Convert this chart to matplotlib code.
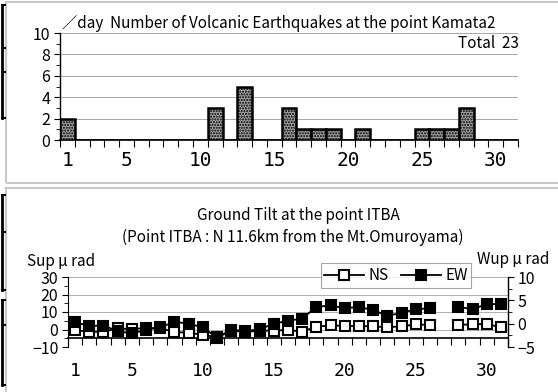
#!/usr/bin/env python3

import matplotlib
matplotlib.use('Agg')
import matplotlib.pyplot as plt
from matplotlib.lines import Line2D
from matplotlib.patches import Rectangle
from matplotlib.ticker import MultipleLocator, FixedLocator
import numpy as np

plt.rcParams['font.family'] = ['Noto Sans CJK JP', 'DejaVu Sans']

days = np.arange(1, 32)
tick_days = [1, 5, 10, 15, 20, 25, 30]

# daily counts of volcanic earthquakes (Kamata2)
quake_counts = [2, 0, 0, 0, 0, 0, 0, 0, 0, 0,
                3, 0, 5, 0, 0, 3, 1, 1, 1, 0,
                1, 0, 0, 0, 1, 1, 1, 3, 0, 0, 0]

# ground tilt at ITBA, micro radian (day 27 missing)
tilt_ns = [-0.3, -1.3, -1.3, 0.7, 0.1, 1.0, 0.6, -1.3, -2.0, -2.9,
           -4.5, -0.7, -1.3, -0.7, -0.6, -0.3, -1.2, 1.6, 2.4, 2.0,
           2.0, 1.8, 1.3, 1.8, 2.9, 2.6, np.nan, 2.6, 3.0, 3.1, 1.3]
tilt_ew = [0.3, -0.5, -0.4, -1.6, -2.1, -1.3, -0.8, 0.4, 0.0, -0.8,
           -3.0, -1.3, -1.6, -1.2, 0.0, 0.6, 1.1, 3.6, 3.9, 3.3,
           3.6, 2.9, 1.7, 2.3, 3.1, 3.3, np.nan, 3.6, 3.1, 4.2, 4.2]

W, H = 558, 392
TXT = 11


def fx(px):
    return px / W


def fy(py):
    return 1 - py / H


def style_day_axis(axis, label_size):
    axis.set_xlim(0.5, 31.5)
    axis.xaxis.set_major_locator(FixedLocator(tick_days))
    axis.xaxis.set_minor_locator(FixedLocator(np.arange(0.5, 32, 1)))
    axis.tick_params(axis='x', which='major', length=0, pad=8)
    axis.tick_params(axis='x', which='minor', length=5, width=0.8, direction='out')
    for lab in axis.get_xticklabels():
        lab.set_fontfamily('DejaVu Sans Mono')
        lab.set_fontsize(label_size)
#-- style_day_axis


def style_value_axis(axis, major, minor):
    axis.yaxis.set_major_locator(MultipleLocator(major))
    axis.yaxis.set_minor_locator(MultipleLocator(minor))
    axis.tick_params(axis='y', which='both', direction='out', labelsize=11.5, pad=3)
    axis.tick_params(axis='y', which='major', length=4)
    axis.tick_params(axis='y', which='minor', length=3)
#-- style_value_axis


def main():
    fig = plt.figure(figsize=(W / 100, H / 100), dpi=100)

    # panel frames
    for y0, y1 in [(2, 183), (188, 396)]:
        fig.add_artist(Rectangle((fx(6), fy(y1)), fx(560) - fx(6), fy(y0) - fy(y1),
                                 transform=fig.transFigure, fill=False,
                                 edgecolor='#c8c8c8', linewidth=1.5))

    # bracket marks on the left margin
    for seg, stubs in [((5, 118), (5, 48, 72, 118)),
                       ((195, 290), (195, 232, 290)),
                       ((300, 385), (300, 325, 385))]:
        fig.add_artist(Line2D([fx(2), fx(2)], [fy(seg[0]), fy(seg[1])],
                              transform=fig.transFigure, color='black', lw=2))
        for s in stubs:
            fig.add_artist(Line2D([fx(2), fx(5)], [fy(s), fy(s)],
                                  transform=fig.transFigure, color='black', lw=1.5))

    # --- earthquake counts
    ax1 = fig.add_axes([fx(60), fy(140), fx(518) - fx(60), fy(33) - fy(140)])
    ax1.bar(days, quake_counts, width=1.0, color='#a0a0a0', edgecolor='black',
            linewidth=1.8, hatch='......', zorder=3)
    ax1.set_ylim(0, 10)
    style_value_axis(ax1, 2, 1)
    ax1.grid(axis='y', which='major', color='#a8a8a8', linewidth=0.7)
    for side in ['top', 'right']:
        ax1.spines[side].set_visible(False)
    ax1.spines['left'].set_linewidth(1.0)
    ax1.spines['bottom'].set_linewidth(1.2)
    style_day_axis(ax1, 14)

    fig.text(fx(62), fy(24), '／day  Number of Volcanic Earthquakes at the point Kamata2',
             fontsize=TXT, va='center', ha='left')
    fig.text(fx(519), fy(43), f'Total  {sum(quake_counts)}',
             fontsize=TXT, va='center', ha='right')

    # --- ground tilt
    ax2 = fig.add_axes([fx(68), fy(347), fx(508) - fx(68), fy(277) - fy(347)])
    ax2.set_ylim(-10, 30)
    style_value_axis(ax2, 10, 5)
    ax2.grid(axis='y', which='major', color='#b0b0b0', linewidth=0.7)
    ax2.spines['top'].set_visible(False)
    ax2.spines['right'].set_visible(False)
    ax2.spines['bottom'].set_position(('data', -5))
    ax2.spines['bottom'].set_linewidth(1.2)
    style_day_axis(ax2, 13)
    ax2.tick_params(axis='x', which='major', pad=17)

    ax3 = ax2.twinx()
    ax3.set_ylim(-5, 10)
    style_value_axis(ax3, 5, 2.5)
    for side in ['top', 'left', 'bottom']:
        ax3.spines[side].set_visible(False)
    ax3.spines['right'].set_linewidth(1.0)

    ns_line, = ax2.plot(days, tilt_ns, color='black', lw=1.3, marker='s',
                        markersize=7.5, markerfacecolor='white',
                        markeredgecolor='black', markeredgewidth=1.5, zorder=3)
    ew_line, = ax3.plot(days, tilt_ew, color='black', lw=1.3, marker='s',
                        markersize=7.5, markerfacecolor='black',
                        markeredgecolor='black', markeredgewidth=1.5, zorder=3)

    fig.text(fx(298), fy(215), 'Ground Tilt at the point ITBA',
             fontsize=TXT, ha='center', va='center')
    fig.text(fx(293), fy(237), '(Point ITBA : N 11.6km from the Mt.Omuroyama)',
             fontsize=TXT, ha='center', va='center')
    fig.text(fx(27), fy(262), 'Sup μ rad', fontsize=TXT, ha='left', va='center')
    fig.text(fx(477), fy(260), 'Wup μ rad', fontsize=TXT, ha='left', va='center')

    leg = fig.legend([ns_line, ew_line], ['NS', 'EW'], loc='center',
                     bbox_to_anchor=(fx(396), fy(275.5)), ncol=2, fontsize=TXT,
                     frameon=True, fancybox=False, handlelength=2.6,
                     handletextpad=0.3, columnspacing=0.8, borderpad=0.25)
    leg.get_frame().set_edgecolor('#909090')
    leg.get_frame().set_linewidth(0.8)

    fig.savefig('out.png', dpi=100)
    return 0
#-- main


if __name__ == '__main__':
    main()
